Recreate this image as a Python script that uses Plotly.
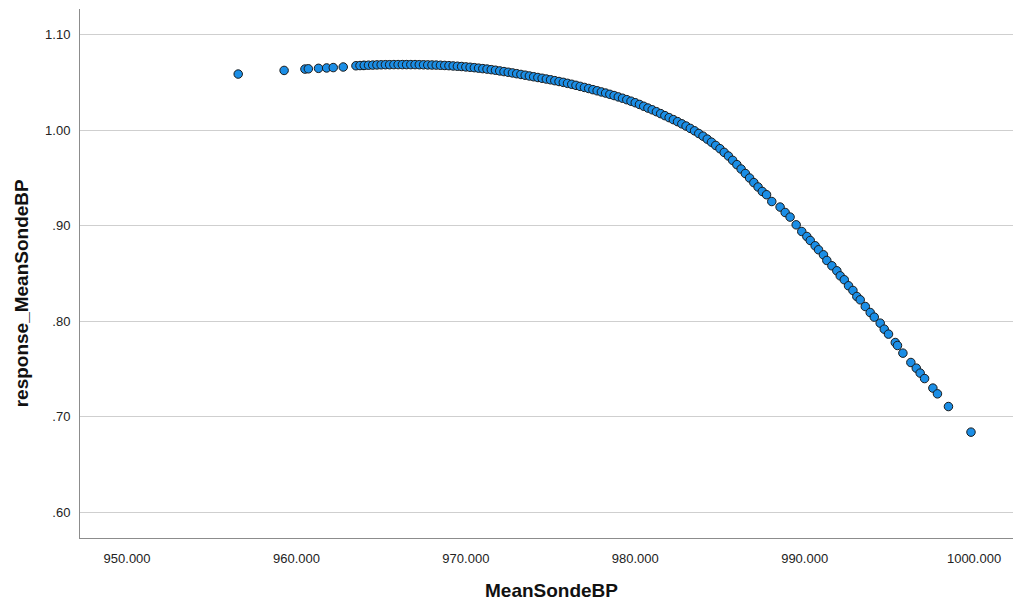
import plotly.graph_objects as go

# --- data ---
x_left = [956.56, 959.27, 960.50, 960.70, 961.30, 961.78, 962.17, 962.76, 963.51, 963.94]
y_left = [1.0588, 1.0626, 1.0640, 1.0643, 1.0648, 1.0652, 1.0656, 1.0662, 1.0675, 1.0678]

x_mid = [963.75, 964.00, 964.25, 964.50, 964.75, 965.00, 965.25, 965.50, 965.75, 966.00,
         966.25, 966.50, 966.75, 967.00, 967.25, 967.50, 967.75, 968.00, 968.25, 968.50,
         968.75, 969.00, 969.25, 969.50, 969.75, 970.00, 970.25, 970.50, 970.75, 971.00,
         971.25, 971.50, 971.75, 972.00, 972.25, 972.50, 972.75, 973.00, 973.25, 973.50,
         973.75, 974.00, 974.25, 974.50, 974.75, 975.00, 975.25, 975.50, 975.75, 976.00,
         976.25, 976.50, 976.75, 977.00, 977.25, 977.50, 977.75, 978.00, 978.25, 978.50,
         978.75, 979.00, 979.25, 979.50, 979.75, 980.00, 980.25, 980.50, 980.75, 981.00,
         981.25, 981.50, 981.75, 982.00, 982.25, 982.50, 982.75, 983.00, 983.25, 983.50,
         983.75, 984.00, 984.25, 984.50, 984.75, 985.00, 985.25, 985.50, 985.75, 986.00,
         986.25, 986.50, 986.75, 987.00, 987.25, 987.50, 987.75]
y_mid = [1.0677, 1.0679, 1.0681, 1.0682, 1.0684, 1.0685, 1.0686, 1.0686, 1.0687, 1.0687,
         1.0687, 1.0687, 1.0687, 1.0687, 1.0686, 1.0685, 1.0684, 1.0683, 1.0682, 1.0680,
         1.0678, 1.0676, 1.0673, 1.0670, 1.0667, 1.0663, 1.0659, 1.0655, 1.0650, 1.0645,
         1.0640, 1.0634, 1.0628, 1.0621, 1.0614, 1.0607, 1.0600, 1.0592, 1.0584, 1.0576,
         1.0568, 1.0560, 1.0552, 1.0544, 1.0536, 1.0528, 1.0519, 1.0510, 1.0501, 1.0491,
         1.0481, 1.0470, 1.0459, 1.0448, 1.0437, 1.0425, 1.0413, 1.0401, 1.0389, 1.0376,
         1.0363, 1.0349, 1.0335, 1.0320, 1.0304, 1.0288, 1.0270, 1.0251, 1.0232, 1.0214,
         1.0194, 1.0174, 1.0153, 1.0132, 1.0111, 1.0090, 1.0067, 1.0044, 1.0019, 0.9994,
         0.9966, 0.9938, 0.9907, 0.9875, 0.9841, 0.9807, 0.9768, 0.9730, 0.9685, 0.9640,
         0.9594, 0.9547, 0.9500, 0.9452, 0.9406, 0.9359, 0.9325]

x_tail = [988.06, 988.55, 988.85, 989.14, 989.50, 989.83, 990.13, 990.33, 990.62, 990.82,
          991.11, 991.31, 991.61, 991.90, 992.10, 992.34, 992.59, 992.85, 993.08, 993.28,
          993.58, 993.87, 994.11, 994.46, 994.70, 994.95, 995.35, 995.48, 995.80, 996.27,
          996.59, 996.82, 997.08, 997.57, 997.84, 998.49, 999.82]
y_tail = [0.9254, 0.9196, 0.9139, 0.9091, 0.9010, 0.8940, 0.8888, 0.8846, 0.8791, 0.8749,
          0.8696, 0.8637, 0.8581, 0.8529, 0.8476, 0.8435, 0.8372, 0.8323, 0.8260, 0.8225,
          0.8155, 0.8092, 0.8044, 0.7981, 0.7918, 0.7866, 0.7778, 0.7747, 0.7667, 0.7569,
          0.7510, 0.7458, 0.7401, 0.7301, 0.7241, 0.7108, 0.6840]

mean_sonde_bp = x_left + x_mid + x_tail
response = y_left + y_mid + y_tail

x_ticks = [950, 960, 970, 980, 990, 1000]
y_ticks = [0.60, 0.70, 0.80, 0.90, 1.00, 1.10]
y_tick_text = [".60", ".70", ".80", ".90", "1.00", "1.10"]

fig = go.Figure()
fig.add_trace(go.Scatter(
    x=mean_sonde_bp, y=response, mode="markers",
    marker=dict(size=8.5, color="#1b8ee6", line=dict(color="#1a1a1a", width=1)),
    showlegend=False, hoverinfo="skip"))

fig.update_layout(
    width=1013, height=600,
    margin=dict(l=80, r=0, t=9, b=62, pad=0),
    paper_bgcolor="white", plot_bgcolor="white",
    font=dict(family="Liberation Sans, Arial, sans-serif", size=13, color="#222222"),
    xaxis=dict(range=[947.22, 1002.3], tickvals=x_ticks, tickformat=".3f",
               showgrid=False, zeroline=False, showline=True, linecolor="#8c8c8c",
               linewidth=1, ticks="", ticklabelstandoff=8),
    yaxis=dict(range=[0.5732, 1.1269], tickvals=y_ticks, ticktext=y_tick_text,
               showgrid=True, gridcolor="#cfcfcf", gridwidth=1, zeroline=False,
               showline=True, linecolor="#8c8c8c", linewidth=1, ticks="",
               ticklabelstandoff=6),
    annotations=[
        dict(text="<b>MeanSondeBP</b>", xref="paper", yref="paper", x=0.5056, y=-0.0983,
             xanchor="center", yanchor="middle", showarrow=False,
             font=dict(size=19, color="#111111")),
        dict(text="<b>response_MeanSondeBP</b>", xref="paper", yref="paper", x=-0.0632,
             y=0.4626, xanchor="center", yanchor="middle", textangle=-90, showarrow=False,
             font=dict(size=19, color="#111111")),
    ],
)

fig.write_html("out.html", config={"displayModeBar": False},
               post_script="document.body.style.margin='0px';document.body.style.overflow='hidden';")
